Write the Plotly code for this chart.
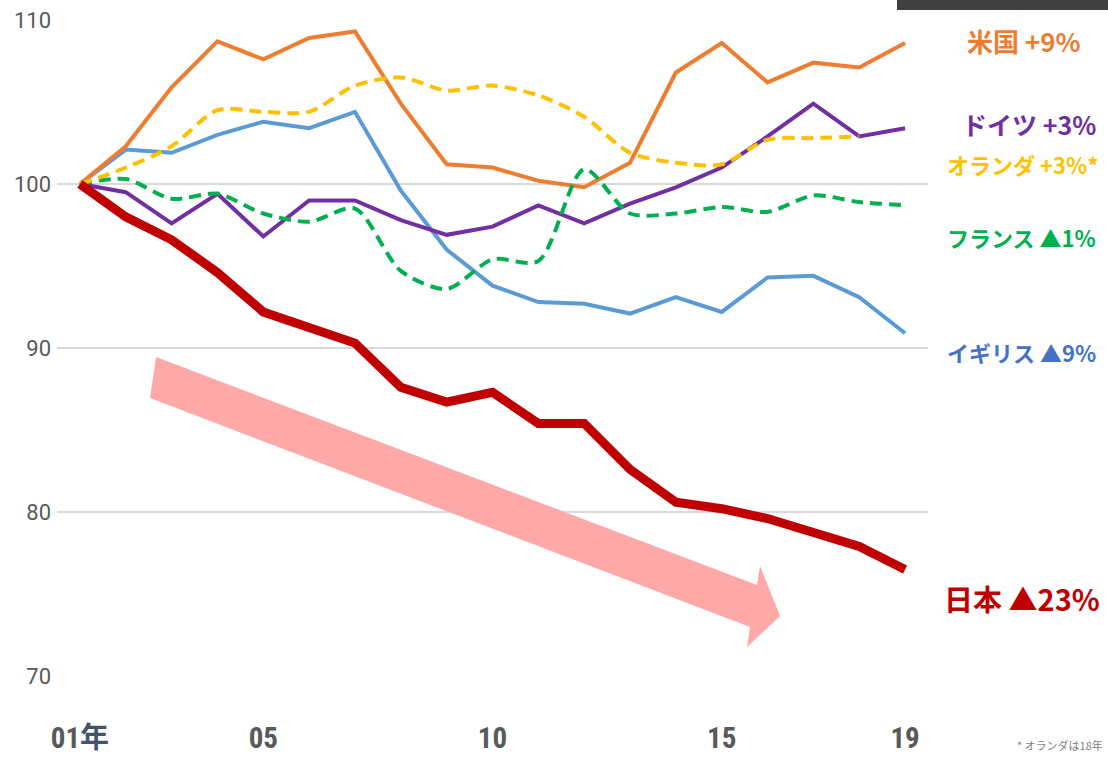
import plotly.graph_objects as go

years = list(range(2001, 2020))

japan = [100, 98.0, 96.6, 94.6, 92.2, 91.2, 90.3, 87.6, 86.7, 87.3, 85.4, 85.4, 82.6, 80.6, 80.2, 79.6, 78.8, 77.9, 76.5]
usa = [100, 102.3, 105.9, 108.7, 107.6, 108.9, 109.3, 104.9, 101.2, 101.0, 100.2, 99.8, 101.3, 106.8, 108.6, 106.2, 107.4, 107.1, 108.6]
germany = [100, 99.5, 97.6, 99.4, 96.8, 99.0, 99.0, 97.8, 96.9, 97.4, 98.7, 97.6, 98.8, 99.8, 101.0, 102.9, 104.9, 102.9, 103.4]
netherlands = [100, 101.0, 102.3, 104.5, 104.4, 104.4, 106.0, 106.5, 105.7, 106.0, 105.4, 104.1, 101.9, 101.3, 101.2, 102.7, 102.8, 102.9]
france = [100, 100.3, 99.1, 99.4, 98.2, 97.7, 98.5, 94.7, 93.6, 95.4, 95.3, 100.9, 98.2, 98.2, 98.6, 98.3, 99.3, 98.9, 98.7]
uk = [100, 102.1, 101.9, 103.0, 103.8, 103.4, 104.4, 99.6, 96.0, 93.8, 92.8, 92.7, 92.1, 93.1, 92.2, 94.3, 94.4, 93.1, 90.9]

tick_vals = [2001, 2005, 2010, 2015, 2019]
tick_text = ["<b>01</b><span style='color:#44546A'><b>年</b></span>", "<b>05</b>", "<b>10</b>", "<b>15</b>", "<b>19</b>"]
y_ticks = [70, 80, 90, 100, 110]

labels = [
    ("米国 +9%", "#ED7D31", 1.0425, 0.9695, 26),
    ("ドイツ +3%", "#7030A0", 1.0367, 0.8415, 25),
    ("オランダ +3%*", "#FFC000", 1.0195, 0.7805, 22),
    ("フランス ▲1%", "#00B050", 1.0195, 0.6692, 22),
    ("イギリス ▲9%", "#4472C4", 1.0195, 0.4939, 22),
    ("日本 ▲23%", "#C00000", 1.0161, 0.1189, 29),
]

fig = go.Figure()

fig.add_trace(go.Scatter(x=years, y=uk, mode="lines", line=dict(color="#5B9BD5", width=4), name="イギリス"))
fig.add_trace(go.Scatter(x=years, y=germany, mode="lines", line=dict(color="#7030A0", width=4), name="ドイツ"))
fig.add_trace(go.Scatter(x=years, y=usa, mode="lines", line=dict(color="#ED7D31", width=4), name="米国"))
fig.add_trace(go.Scatter(x=years, y=france, mode="lines",
                         line=dict(color="#00B050", width=4, dash="12px,7px", shape="spline", smoothing=0.8), name="フランス"))
fig.add_trace(go.Scatter(x=years[:len(netherlands)], y=netherlands, mode="lines",
                         line=dict(color="#FFC000", width=4, dash="12px,7px", shape="spline", smoothing=0.8), name="オランダ"))
fig.add_trace(go.Scatter(x=years, y=japan, mode="lines", line=dict(color="#C00000", width=9), name="日本"))

# big pink arrow (decoration)
arrow_pts = [(2002.660, 89.45), (2015.771, 75.55), (2015.836, 76.71), (2016.272, 73.66),
             (2015.552, 71.77), (2015.618, 72.99), (2002.529, 86.95)]
path = "M " + " L ".join(f"{x},{y}" for x, y in arrow_pts) + " Z"
fig.add_shape(type="path", path=path, xref="x", yref="y", fillcolor="#FFA8A8",
              line=dict(width=0), layer="between")

# dark box at top right
fig.add_shape(type="rect", xref="paper", yref="paper", x0=0.9644, x1=1.25, y0=1.0152, y1=1.05,
              fillcolor="#404040", line=dict(width=0), layer="above")

for text, color, x, y, size in labels:
    fig.add_annotation(text=f"<b>{text}</b>", x=x, y=y, xref="paper", yref="paper",
                       xanchor="left", yanchor="middle", showarrow=False,
                       font=dict(family="Noto Sans CJK JP", size=size, color=color))

fig.add_annotation(text="* オランダは18年", x=1.0999, y=-0.1052, xref="paper", yref="paper",
                   xanchor="left", yanchor="middle", showarrow=False,
                   font=dict(family="Noto Sans CJK JP", size=11, color="#7F7F7F"))

fig.update_layout(
    width=1108, height=760,
    autosize=False,
    margin=dict(l=57, r=180, t=20, b=84, pad=0),
    paper_bgcolor="white", plot_bgcolor="white",
    showlegend=False,
    xaxis=dict(range=[2000.5, 2019.5], tickvals=tick_vals, ticktext=tick_text,
               showgrid=False, zeroline=False, showline=False, ticks="", automargin=False,
               ticklabelstandoff=42,
               tickfont=dict(family="Roboto Condensed, Liberation Sans Narrow, Roboto, Noto Sans CJK JP", size=29, color="#595959")),
    yaxis=dict(range=[70, 110], tickvals=y_ticks, showgrid=True, gridcolor="#D9D9D9", gridwidth=2,
               zeroline=False, showline=False, ticks="", ticklabelstandoff=5, automargin=False,
               tickfont=dict(family="Liberation Sans Narrow, Roboto, sans-serif", size=22, color="#595959")),
)

fig.write_html("out.html", config={"displayModeBar": False},
               post_script="document.body.style.margin='0';document.body.style.overflow='hidden';")
